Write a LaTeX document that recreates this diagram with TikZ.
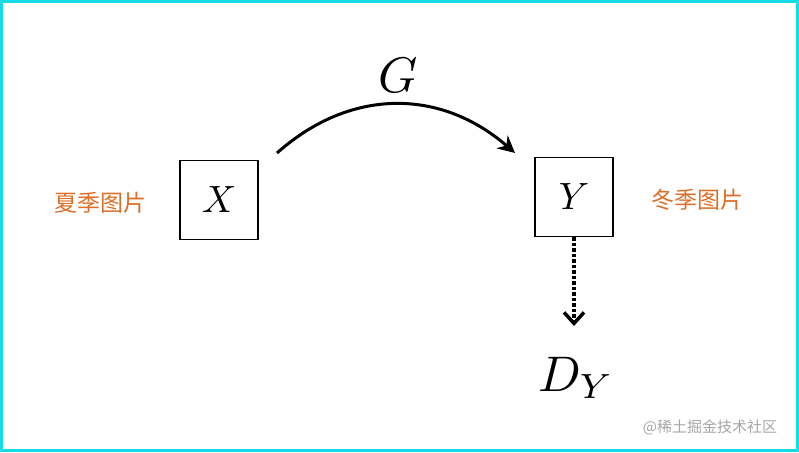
\documentclass[tikz,border=0pt]{standalone}
\usepackage{fontspec}
\newfontfamily\cjk{Noto Sans CJK SC}
\usetikzlibrary{arrows.meta}
\definecolor{orng}{RGB}{220,110,40}
\definecolor{cyn}{RGB}{20,220,230}
\begin{document}
\begin{tikzpicture}[x=1pt,y=-1pt,
  box/.style={draw,line width=1.5pt,minimum width=78pt,minimum height=79pt},
  lab/.style={text=orng,font=\cjk\fontsize{23}{23}\selectfont}]
\useasboundingbox (0,0) rectangle (799,452);
\draw[cyn,line width=3pt] (1.5,1.5) rectangle (797.5,450.5);
\node[box] (x) at (219,200) {};
\node[box] (y) at (574,197) {};
\node[scale=3.8] at (x) {$X$};
\node[scale=3.8] at (y) {$Y$};
\node[lab] (lx) at (100,203) {夏季图片};
\node[lab] (ly) at (697,200) {冬季图片};
\coordinate (a) at (277,153);
\coordinate (b) at (515,153);
\draw[line width=3pt,-{Stealth[length=17pt,width=17pt]}] (a) .. controls (350,88) and (440,88) .. (b);
\node[scale=5] (g) at (398,75) {$G$};
\node[scale=5] (d) at (576,378) {$D_Y$};
\draw[line width=3.5pt,dotted,-{Straight Barb[length=11pt,width=20pt]}] (y.south) -- (574,326);
\node[text=gray!70,font=\cjk\fontsize{15}{15}\selectfont] (w) at (710,427) {@稀土掘金技术社区};
\end{tikzpicture}
\end{document}
